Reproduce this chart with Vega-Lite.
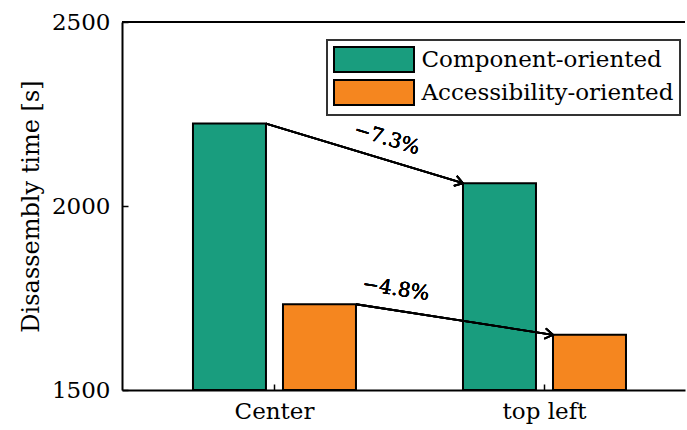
{
  "$schema": "https://vega.github.io/schema/vega-lite/v6.json",
  "width": 563,
  "height": 368,
  "autosize": {"type": "none"},
  "padding": {"left": 122, "top": 22, "right": 2, "bottom": 40},
  "background": "white",
  "config": {
    "view": {"stroke": null},
    "font": "DejaVu Serif",
    "axis": {
      "labelFont": "DejaVu Serif", "titleFont": "DejaVu Serif",
      "labelFontSize": 23, "titleFontSize": 24, "labelColor": "black", "titleColor": "black",
      "titleFontWeight": "normal", "domainColor": "black", "domainWidth": 2,
      "tickColor": "black", "tickWidth": 1.5, "grid": false
    },
    "legend": {"strokeWidth": 2}
  },
  "data": {"values": [
    {"position": "Center", "strategy": "Component-oriented", "time": 2224},
    {"position": "Center", "strategy": "Accessibility-oriented", "time": 1733},
    {"position": "top left", "strategy": "Component-oriented", "time": 2062},
    {"position": "top left", "strategy": "Accessibility-oriented", "time": 1650}
  ]},
  "layer": [
    {
      "mark": {"type": "bar", "stroke": "black", "strokeWidth": 2},
      "encoding": {
        "x": {"field": "position", "type": "nominal", "sort": ["Center", "top left"],
          "scale": {"paddingInner": 0.3963, "paddingOuter": 0.2407, "align": 0.546},
          "axis": {"title": null, "labelAngle": 0, "tickSize": -6, "labelPadding": 16}},
        "xOffset": {"field": "strategy", "type": "nominal", "sort": ["Component-oriented", "Accessibility-oriented"],
          "scale": {"paddingInner": 0.189, "paddingOuter": 0}},
        "y": {"field": "time", "type": "quantitative",
          "scale": {"domain": [1500, 2500], "nice": false, "zero": false},
          "axis": {"values": [1500, 2000, 2500], "format": "d", "tickSize": -6, "labelPadding": 18,
            "title": "Disassembly time [s]", "titleFont": "DejaVu Serif", "titleFontWeight": "normal", "titlePadding": 8}},
        "y2": {"datum": 1500},
        "color": {"field": "strategy", "type": "nominal",
          "scale": {"domain": ["Component-oriented", "Accessibility-oriented"], "range": ["#199d7e", "#f5861f"]},
          "legend": {"title": null, "orient": "none", "legendX": 205, "legendY": 18,
            "symbolType": "M-3.2,-1H3.2V1H-3.2Z", "symbolSize": 625, "symbolOffset": 27.5,
            "symbolStrokeColor": "black", "symbolStrokeWidth": 2, "symbolOpacity": 1,
            "labelFontSize": 23, "labelFont": "DejaVu Serif", "labelColor": "black", "labelLimit": 400,
            "fillColor": "white", "strokeColor": "#333", "padding": 6, "rowPadding": 0, "labelOffset": 34, "cornerRadius": 0}}
      }
    },
    {
      "mark": {"type": "rule", "color": "black", "strokeWidth": 2},
      "encoding": {"y": {"datum": 2500, "type": "quantitative"}}
    },
    {
      "mark": {"type": "rule", "color": "black", "strokeWidth": 1.8},
      "encoding": {
        "x": {"datum": "Center", "type": "nominal", "bandPosition": 0.448},
        "x2": {"datum": "top left", "bandPosition": 0},
        "y": {"datum": 2224, "type": "quantitative"},
        "y2": {"datum": 2062}
      }
    },
    {
      "mark": {"type": "point", "shape": "M-1,-0.65L0,0L-1,0.65", "size": 256, "filled": false, "stroke": "black", "strokeWidth": 1.8, "angle": 16.8, "opacity": 1},
      "encoding": {
        "x": {"datum": "top left", "type": "nominal", "bandPosition": 0},
        "y": {"datum": 2062, "type": "quantitative"}
      }
    },
    {
      "mark": {"type": "rule", "color": "black", "strokeWidth": 1.8},
      "encoding": {
        "x": {"datum": "Center", "type": "nominal", "bandPosition": 1},
        "x2": {"datum": "top left", "bandPosition": 0.552},
        "y": {"datum": 1733, "type": "quantitative"},
        "y2": {"datum": 1650}
      }
    },
    {
      "mark": {"type": "point", "shape": "M-1,-0.65L0,0L-1,0.65", "size": 256, "filled": false, "stroke": "black", "strokeWidth": 1.8, "angle": 8.8, "opacity": 1},
      "encoding": {
        "x": {"datum": "top left", "type": "nominal", "bandPosition": 0.552},
        "y": {"datum": 1650, "type": "quantitative"}
      }
    },
    {
      "mark": {"type": "text", "fontSize": 20, "angle": 16.8, "align": "center", "baseline": "middle", "font": "DejaVu Serif", "fontWeight": "normal", "color": "black"},
      "encoding": {
        "x": {"datum": "Center", "type": "nominal", "bandPosition": 1.19},
        "y": {"datum": 2182, "type": "quantitative"},
        "text": {"datum": "−7.3%"}
      }
    },
    {
      "mark": {"type": "text", "fontSize": 20, "angle": 8.8, "align": "center", "baseline": "middle", "font": "DejaVu Serif", "fontWeight": "normal", "color": "black"},
      "encoding": {
        "x": {"datum": "Center", "type": "nominal", "bandPosition": 1.245},
        "y": {"datum": 1774, "type": "quantitative"},
        "text": {"datum": "−4.8%"}
      }
    }
  ]
}
